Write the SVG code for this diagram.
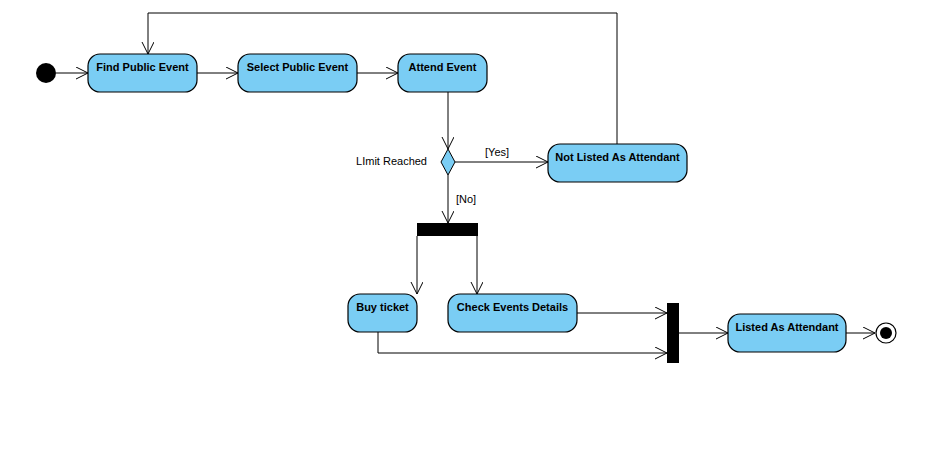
<svg xmlns="http://www.w3.org/2000/svg" width="932" height="468" viewBox="0 0 932 468">
<defs>
<style>
.act{fill:#7acdf4;stroke:#000;stroke-width:1.2}
.lbl{font-family:"Liberation Sans",Arial,sans-serif;font-size:11px;font-weight:bold;fill:#000;text-anchor:middle}
.g{font-family:"Liberation Sans",Arial,sans-serif;font-size:11px;fill:#000}
.c{fill:none;stroke:#000;stroke-width:1}
</style>
<marker id="ah" markerWidth="14" markerHeight="14" refX="12" refY="6" orient="auto" markerUnits="userSpaceOnUse">
<path d="M0,0 L12,6 L0,12" fill="none" stroke="#000" stroke-width="1"/>
</marker>
</defs>
<rect width="932" height="468" fill="#fff"/>
<g id="connectors">
<line class="c" x1="56" y1="73" x2="88" y2="73" marker-end="url(#ah)"/>
<line class="c" x1="197" y1="73" x2="238" y2="73" marker-end="url(#ah)"/>
<line class="c" x1="357" y1="73" x2="398" y2="73" marker-end="url(#ah)"/>
<line class="c" x1="448" y1="92" x2="448" y2="149" marker-end="url(#ah)"/>
<line class="c" x1="455" y1="162" x2="548" y2="162" marker-end="url(#ah)"/>
<polyline class="c" points="617,144 617,13 148,13 148,54" marker-end="url(#ah)"/>
<line class="c" x1="448" y1="175" x2="448" y2="223" marker-end="url(#ah)"/>
<line class="c" x1="417" y1="236" x2="417" y2="294" marker-end="url(#ah)"/>
<line class="c" x1="477" y1="236" x2="477" y2="294" marker-end="url(#ah)"/>
<line class="c" x1="577" y1="313" x2="667" y2="313" marker-end="url(#ah)"/>
<polyline class="c" points="378,332 378,353 667,353" marker-end="url(#ah)"/>
<line class="c" x1="679" y1="333" x2="728" y2="333" marker-end="url(#ah)"/>
<line class="c" x1="846" y1="333" x2="875" y2="333" marker-end="url(#ah)"/>
<text class="g" x="485" y="156">[Yes]</text>
<text class="g" x="456" y="203">[No]</text>
</g>
<g id="start"><circle cx="46" cy="73" r="10" fill="#000"/></g>
<g id="find"><rect class="act" x="88" y="54" width="109" height="38" rx="12"/><text class="lbl" x="142.5" y="71">Find Public Event</text></g>
<g id="select"><rect class="act" x="238" y="54" width="119" height="38" rx="12"/><text class="lbl" x="297.5" y="71">Select Public Event</text></g>
<g id="attend"><rect class="act" x="398" y="54" width="89" height="38" rx="12"/><text class="lbl" x="442.5" y="71">Attend Event</text></g>
<g id="decision"><polygon points="448,149 455,162 448,175 441,162" fill="#7acdf4" stroke="#000" stroke-width="1"/><text class="g" x="427" y="165" text-anchor="end">LImit Reached</text></g>
<g id="notlisted"><rect class="act" x="548" y="144" width="139" height="38" rx="12"/><text class="lbl" x="617.5" y="161">Not Listed As Attendant</text></g>
<g id="fork"><rect x="417" y="223" width="61" height="13" fill="#000"/></g>
<g id="buy"><rect class="act" x="348" y="294" width="69" height="38" rx="12"/><text class="lbl" x="382.5" y="311">Buy ticket</text></g>
<g id="check"><rect class="act" x="448" y="294" width="129" height="38" rx="12"/><text class="lbl" x="512.5" y="311">Check Events Details</text></g>
<g id="join"><rect x="667" y="303" width="12" height="60" fill="#000"/></g>
<g id="listed"><rect class="act" x="728" y="314" width="118" height="38" rx="12"/><text class="lbl" x="787" y="331">Listed As Attendant</text></g>
<g id="end"><circle cx="886" cy="333" r="10" fill="#fff" stroke="#000" stroke-width="1.2"/><circle cx="886" cy="333" r="6" fill="#000"/></g>
</svg>
